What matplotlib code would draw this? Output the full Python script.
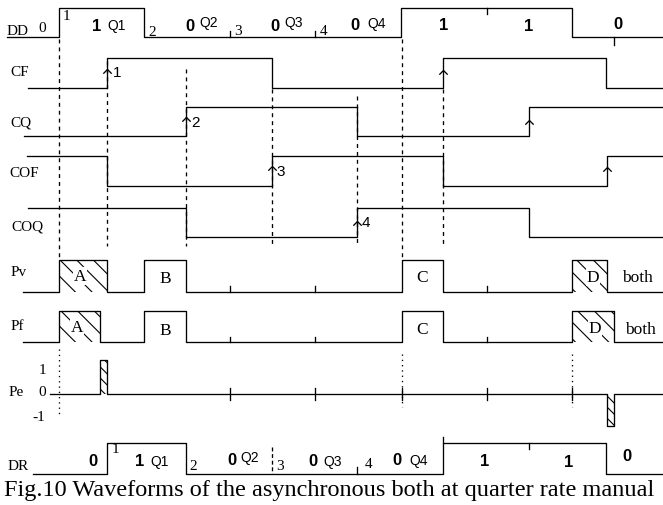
import matplotlib
matplotlib.use("Agg")
import matplotlib.pyplot as plt
from matplotlib.path import Path

# time axis in bit periods, t=0 at the first rising edge of DD
t_left, t_right = -0.686, 7.06

# signal edges (bit periods) and starting level
dd_edges = [0, 1, 4, 6]
cf_edges = [0.568, 2.488, 4.493, 6.39]
cq_edges = [1.484, 3.481, 5.49]
cof_edges = [0.568, 2.488, 4.493, 6.40]
coq_edges = [1.484, 3.481, 5.49]
pv_edges = [0, 0.568, 1, 1.484, 4.007, 4.493, 6.0, 6.40]
pf_edges = [0, 0.482, 1, 1.484, 4.007, 4.493, 6.0, 6.49]
dr_edges = [0.568, 1.484, 4.493, 6.39]
pe_times = [0.48, 0.56, 6.40, 6.49]
pe_levels = [0, 1, 0, -1, 0]

# name, edges, first level, start time, y of high, y of low (pixel rows)
rows = [
    ("DD", dd_edges, 0, -0.604, 9.3, 38.3),
    ("CF", cf_edges, 0, -0.359, 59.3, 89.3),
    ("CQ", cq_edges, 0, -0.405, 107.7, 136.7),
    ("COF", cof_edges, 1, -0.37, 156.7, 186.7),
    ("COQ", coq_edges, 1, -0.36, 209, 238.3),
    ("Pv", pv_edges, 0, -0.417, 260.7, 292.7),
    ("Pf", pf_edges, 0, -0.417, 311.7, 343.3),
    ("DR", dr_edges, 0, -0.30, 444, 475),
]

top_labels = ["0", "1", "1", "Q1", "2", "0", "Q2", "3", "0", "Q3", "4", "0", "Q4", "1", "1", "0"]
caption = "Fig.10 Waveforms of the asynchronous both at quarter rate manual"

fig = plt.figure(figsize=(6.63, 5.06), dpi=100)
ax = fig.add_axes([0, 0, 1, 1])
ax.set_xlim(t_left, t_right)
ax.set_ylim(506, 0)
ax.axis("off")

LW = 0.95
serif = "Liberation Serif"
sans = "Liberation Sans"


def px(x):
    # pixel column -> time units, for text placement
    return (x / 663) * (t_right - t_left) + t_left


def step_xy(edges, level, start):
    xs, ys = [start], [level]
    for e in edges:
        xs.append(e)
        level = 1 - level
        ys.append(level)
    xs.append(t_right)
    ys.append(level)
    return xs, ys


for name, edges, lev0, start, yh, yl in rows:
    xs, ys = step_xy(edges, lev0, start)
    ys = [yh if v else yl for v in ys]
    ax.plot(xs, ys, drawstyle="steps-post", color="k", lw=LW)

# Pe three-level waveform
pe_y = {1: 361, 0: 395, -1: 427}
xs = [-0.10] + pe_times + [t_right]
ys = [pe_y[v] for v in pe_levels] + [pe_y[0]]
ax.plot(xs, ys, drawstyle="steps-post", color="k", lw=LW)

# hatched regions
hatched = [
    (0, 0.568, 260.7, 292.7), (6.0, 6.40, 260.7, 292.7),
    (0, 0.482, 311.7, 343.3), (6.0, 6.49, 311.7, 343.3),
]
plt.rcParams["hatch.linewidth"] = 0.8
for x0, x1, y0, y1 in hatched:
    ax.fill_between([x0, x1], y0, y1, facecolor="none", edgecolor="k",
                    hatch="\\\\", lw=0)
for x0, x1, y0 in [(0.48, 0.56, 361), (6.40, 6.49, 427)]:
    ax.fill_between([x0, x1], y0, 395, facecolor="none", edgecolor="k",
                    hatch="\\\\\\", lw=0)

# dashed guide lines (time, top, bottom)
dashed = [(0, 40, 258), (0.568, 62, 247), (1.484, 70, 247), (2.488, 90, 247),
          (3.481, 97, 247), (4.007, 40, 260), (4.493, 90, 247)]
for t, a, b in dashed:
    ax.plot([t, t], [a, b], color="k", lw=LW, dashes=(3, 3))
for t, a, b in [(0, 350, 416), (4.007, 355, 408), (6.0, 355, 408)]:
    ax.plot([t, t], [a, b], color="k", lw=LW, dashes=(1, 3))
ax.plot([2.488, 2.488], [448, 475], color="k", lw=LW, dashes=(3, 2))

# small ticks (time, top, bottom)
ticks = [(2, 31.7, 38.3), (3, 31.7, 38.3), (5, 9.3, 15), (6.49, 38.3, 46),
         (2, 287, 292.7), (3, 287, 292.7), (5, 287, 292.7),
         (2, 338, 343.3), (3, 338, 343.3), (5, 338, 343.3),
         (2, 389, 401), (3, 389, 401), (4.007, 389, 401), (5, 389, 401), (6.0, 389, 401),
         (3.481, 468, 475), (5.49, 444, 450), (4.493, 438, 444)]
for t, a, b in ticks:
    ax.plot([t, t], [a, b], color="k", lw=LW)

# open arrow heads on the clock edges
chevron = Path([(-1, -1), (0, 0), (1, -1)], [Path.MOVETO, Path.LINETO, Path.LINETO])
arrows = [(0.568, 69.5), (1.484, 117.5), (2.488, 167), (3.481, 221.5),
          (4.493, 71), (5.49, 121), (6.40, 168)]
ax.plot([a[0] for a in arrows], [a[1] for a in arrows], ls="none", marker=chevron,
        ms=6, mfc="none", mec="k", mew=LW)
for t, y, s in [(0.568, 72.7, "1"), (1.484, 123.3, "2"), (2.488, 171.7, "3"), (3.481, 223.3, "4")]:
    ax.text(t + 0.11, y, s, family=sans, fontsize=11, va="center", ha="center")

# left labels
for s, x, y in [("DD", 7, 31), ("CF", 10, 72), ("CQ", 10, 123), ("COF", 9, 173),
                ("COQ", 11, 227), ("Pv", 11, 272), ("Pf", 11, 327), ("DR", 8, 467),
                ("Pe", 9, 393)]:
    ax.text(px(x), y, s, family=serif, fontsize=11, va="center", ha="left")
for s, x, y in [("1", 42, 370), ("0", 42, 393), ("-1", 39, 418), ("0", 41.7, 28)]:
    ax.text(px(x), y, s, family=serif, fontsize=11, va="center", ha="center")

# DD and DR value labels
dd_pos = [None, (66, 16), (97, 26), (117, 26), (152, 32), (190, 26), (209, 23), (238, 31),
          (275.3, 26), (294, 23), (324, 31), (355, 25), (376.7, 24), (443.3, 25),
          (528.3, 26), (618.3, 24)]
dr_pos = [(93, 462), (115, 450), (140, 462), (160, 462), (193, 467), (231.7, 461),
          (250, 458), (280, 467), (313, 462), (333, 462), (368.3, 465), (396.7, 461),
          (418.3, 461), (485, 462), (568.3, 463), (626.7, 457)]
bold_idx = {0, 2, 5, 8, 11, 13, 14, 15}
q_idx = {3, 6, 9, 12}
for pos_list in (dd_pos, dr_pos):
    for i, s in enumerate(top_labels):
        pos = pos_list[i]
        if pos is None:
            continue
        if i in bold_idx:
            kw = dict(family=sans, fontsize=12, fontweight="bold")
        elif i in q_idx:
            kw = dict(family=sans, fontsize=10)
        else:
            kw = dict(family=serif, fontsize=11)
        ax.text(px(pos[0]), pos[1], s, ha="center", va="center", **kw)

# pulse labels
for s, x, y in [("A", 80, 277), ("B", 165, 279), ("C", 422, 278), ("D", 593, 278),
                ("A", 77, 328), ("B", 165, 331), ("C", 422, 330), ("D", 595, 329)]:
    ax.text(px(x), y, s, family=serif, fontsize=12.5, ha="center", va="center",
            bbox=dict(facecolor="white", edgecolor="none", pad=0.5))
for x, y in [(637, 278), (640, 330)]:
    ax.text(px(x), y, "both", family=serif, fontsize=12.5, ha="center", va="center")

ax.text(px(4), 491, caption, family=serif, fontsize=17.5, ha="left", va="center")

fig.savefig("out.png", dpi=100)
plt.close()
